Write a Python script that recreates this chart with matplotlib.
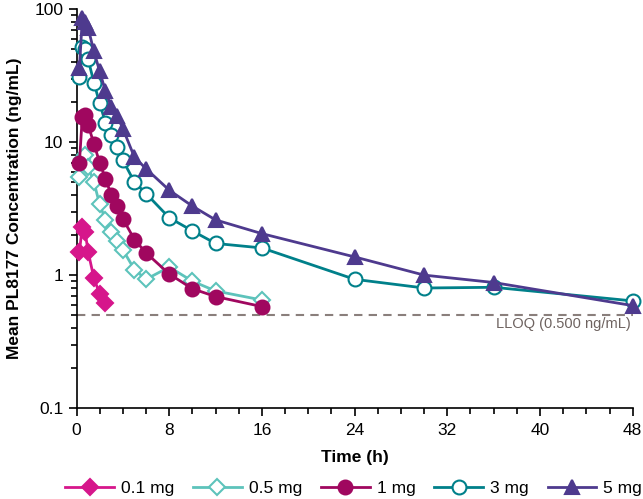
import matplotlib
matplotlib.use("Agg")
import matplotlib.pyplot as plt
from matplotlib.ticker import FixedLocator, NullFormatter, LogLocator

plt.rcParams['font.family'] = ['Liberation Sans', 'DejaVu Sans']

t_01 = [0.25, 0.5, 0.75, 1, 1.5, 2, 2.5]
c_01 = [1.5, 2.3, 2.1, 1.5, 0.95, 0.72, 0.62]

t_05 = [0.25, 0.5, 0.75, 1, 1.5, 2, 2.5, 3, 3.5, 4, 5, 6, 8, 10, 12, 16]
c_05 = [5.5, 7.5, 8.0, 6.5, 5.0, 3.4, 2.6, 2.1, 1.8, 1.55, 1.1, 0.93, 1.15, 0.9, 0.76, 0.65]

t_1 = [0.25, 0.5, 0.75, 1, 1.5, 2, 2.5, 3, 3.5, 4, 5, 6, 8, 10, 12, 16]
c_1 = [7.0, 15.5, 16.0, 13.5, 9.7, 7.0, 5.3, 4.0, 3.3, 2.65, 1.85, 1.47, 1.02, 0.79, 0.69, 0.58]

t_3 = [0.25, 0.5, 0.75, 1, 1.5, 2, 2.5, 3, 3.5, 4, 5, 6, 8, 10, 12, 16, 24, 30, 36, 48]
c_3 = [31, 52, 50, 42, 28, 19.5, 14, 11.2, 9.2, 7.3, 5.0, 4.1, 2.7, 2.15, 1.73, 1.6, 0.93, 0.8, 0.81, 0.64]

t_5 = [0.25, 0.5, 0.75, 1, 1.5, 2, 2.5, 3, 3.5, 4, 5, 6, 8, 10, 12, 16, 24, 30, 36, 48]
c_5 = [36, 85, 80, 72, 48, 34, 24, 18.4, 15.8, 12.6, 7.7, 6.3, 4.35, 3.3, 2.6, 2.05, 1.37, 1.0, 0.88, 0.59]

labels = ["0.1 mg", "0.5 mg", "1 mg", "3 mg", "5 mg"]
lloq = 0.5
x_ticks = [0, 8, 16, 24, 32, 40, 48]
y_ticks = [0.1, 1, 10, 100]
y_ticklabels = ["0.1", "1", "10", "100"]

fig = plt.figure(figsize=(6.43, 4.99), dpi=100)
ax = fig.add_axes([0.119, 0.182, 0.865, 0.800])

styles = [
    dict(color="#D6168B", marker="D", mfc="#D6168B", ms=8.5),
    dict(color="#5DC3BB", marker="D", mfc="white", ms=8.5),
    dict(color="#A0075F", marker="o", mfc="#A0075F", ms=10),
    dict(color="#00808A", marker="o", mfc="white", ms=10),
    dict(color="#4E3A8E", marker="^", mfc="#4E3A8E", ms=10.5),
]
series = [(t_01, c_01), (t_05, c_05), (t_1, c_1), (t_3, c_3), (t_5, c_5)]
for (t, c), st, lab in zip(series, styles, labels):
    ax.plot(t, c, color=st["color"], lw=2, marker=st["marker"], ms=st["ms"],
            mfc=st["mfc"], mec=st["color"], mew=1.5, label=lab, clip_on=False, zorder=3)

ax.axhline(lloq, color="#8A7F7C", lw=1.5, ls=(0, (4, 3)), zorder=1)
ax.text(47.8, 0.43, "LLOQ (0.500 ng/mL)", ha="right", va="center", fontsize=10.5, color="#6E6360")

ax.set_yscale("log")
ax.set_ylim(0.1, 100)
ax.set_xlim(0, 48)
ax.set_xticks(x_ticks)
ax.set_xticks(range(0, 49, 2), minor=True)
ax.yaxis.set_major_locator(FixedLocator(y_ticks))
ax.set_yticklabels(y_ticklabels)
ax.yaxis.set_minor_locator(LogLocator(base=10, subs=range(2, 10)))
ax.yaxis.set_minor_formatter(NullFormatter())

for s in ["top", "right"]:
    ax.spines[s].set_visible(False)
for s in ["left", "bottom"]:
    ax.spines[s].set_linewidth(1.2)
ax.tick_params(axis="both", which="major", length=6, width=1.2, labelsize=12.5, direction="out")
ax.tick_params(axis="x", which="major", pad=5)
ax.tick_params(axis="both", which="minor", length=4, width=1.2)

ax.set_xlabel("Time (h)", fontsize=12.5, fontweight="bold", labelpad=8)
ax.set_ylabel("Mean PL8177 Concentration (ng/mL)", fontsize=12.5, fontweight="bold", labelpad=9)

fig.legend(loc="lower center", bbox_to_anchor=(0.55, -0.025), ncol=5, frameon=False,
           fontsize=12.5, handlelength=2.8, columnspacing=1.1, handletextpad=0.4)

fig.savefig("out.png", dpi=100)
